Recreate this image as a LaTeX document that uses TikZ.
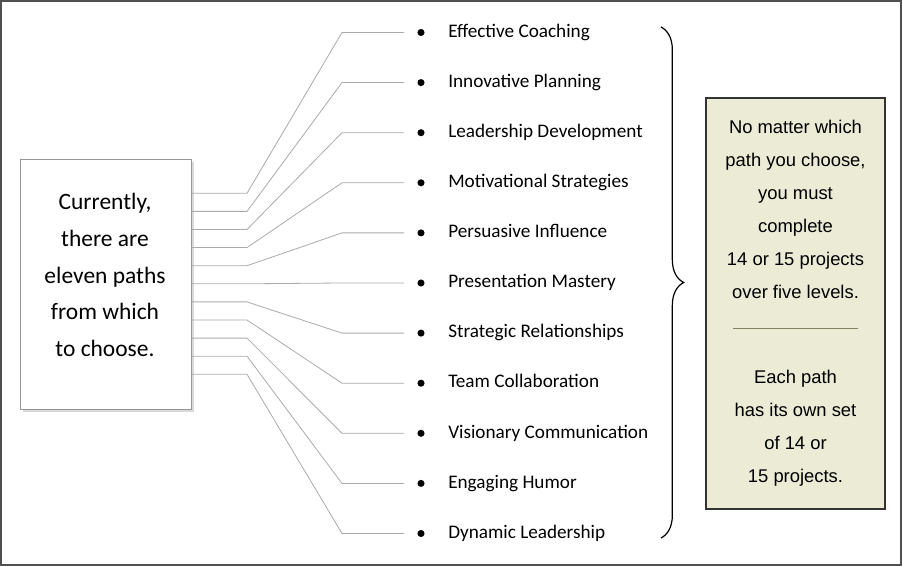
\documentclass[tikz,border=0pt]{standalone}
\usepackage{fontspec}
\setmainfont{Carlito}
\newfontfamily\arialfont{Liberation Sans}
\usepackage{tikz}
\usetikzlibrary{positioning, shadows, decorations.pathreplacing}
\definecolor{pFrame}{RGB}{80, 80, 80}
\definecolor{pLink}{RGB}{170, 170, 170}
\definecolor{pBox}{RGB}{150, 150, 150}
\definecolor{pNote}{RGB}{235, 235, 214}
\definecolor{pRule}{RGB}{130, 130, 100}

\begin{document}
\begin{tikzpicture}[x=0.75pt, y=-0.75pt,
    link/.style={draw=pLink, line width=0.6pt},
    dot/.style={circle, fill=black, inner sep=0pt, minimum size=5.3pt},
    pathname/.style={anchor=base west, inner sep=0pt, font=\fontsize{14.4}{17}\selectfont},
    notetext/.style={align=center, font=\arialfont\fontsize{13.8}{24.75}\selectfont}]
    \useasboundingbox (0,0) rectangle (902,566);
    \draw[pFrame, line width=1.3pt] (0.8,0.8) rectangle (901.2,565.2);
    \node[draw=pBox, fill=white, line width=0.6pt, minimum width=128.25pt, minimum height=187.5pt,
          drop shadow={shadow xshift=2.5pt, shadow yshift=-2.5pt, opacity=0.3}] (cur) at (105.5,284) {};
    \node[align=center, font=\fontsize{17.6}{27.4}\selectfont] (curtxt) at (105,275)
      {Currently,\\there are\\eleven paths\\from which\\to choose.};
    \foreach \i/\name in {1/Effective Coaching, 2/Innovative Planning, 3/Leadership Development,
                          4/Motivational Strategies, 5/Persuasive Influence, 6/Presentation Mastery,
                          7/Strategic Relationships, 8/Team Collaboration, 9/Visionary Communication,
                          10/Engaging Humor, 11/Dynamic Leadership}{
      \pgfmathsetmacro\yp{32.5+50.1*(\i-1)}
      \pgfmathsetmacro\ys{193.3+18.1*(\i-1)}
      \node[dot] (b\i) at (421,\yp) {};
      \node[pathname] (t\i) at (448,\yp+4.7) {\name};
      \draw[link, shorten >=9.75pt] (cur.east |- 0,\ys) -- (247,\ys) -- (342,\yp) -- (b\i);
    }
    \draw[decorate, decoration={brace, amplitude=17pt}, line width=0.9pt] (661,27) -- (661,538);
    \node[draw=black!80, fill=pNote, line width=0.9pt, minimum width=134.25pt, minimum height=308.25pt] (note) at (795.5,303.5) {};
    \node[notetext] (top) at (795.5,209)
      {No matter which\\path you choose,\\you must\\complete\\14 or 15 projects\\over five levels.};
    \draw[pRule, line width=0.6pt] (733,328) -- (858,328);
    \node[notetext] (bottom) at (795.5,428.5) {Each path\\has its own set\\of 14 or\\15 projects.};
  \end{tikzpicture}
\end{document}
